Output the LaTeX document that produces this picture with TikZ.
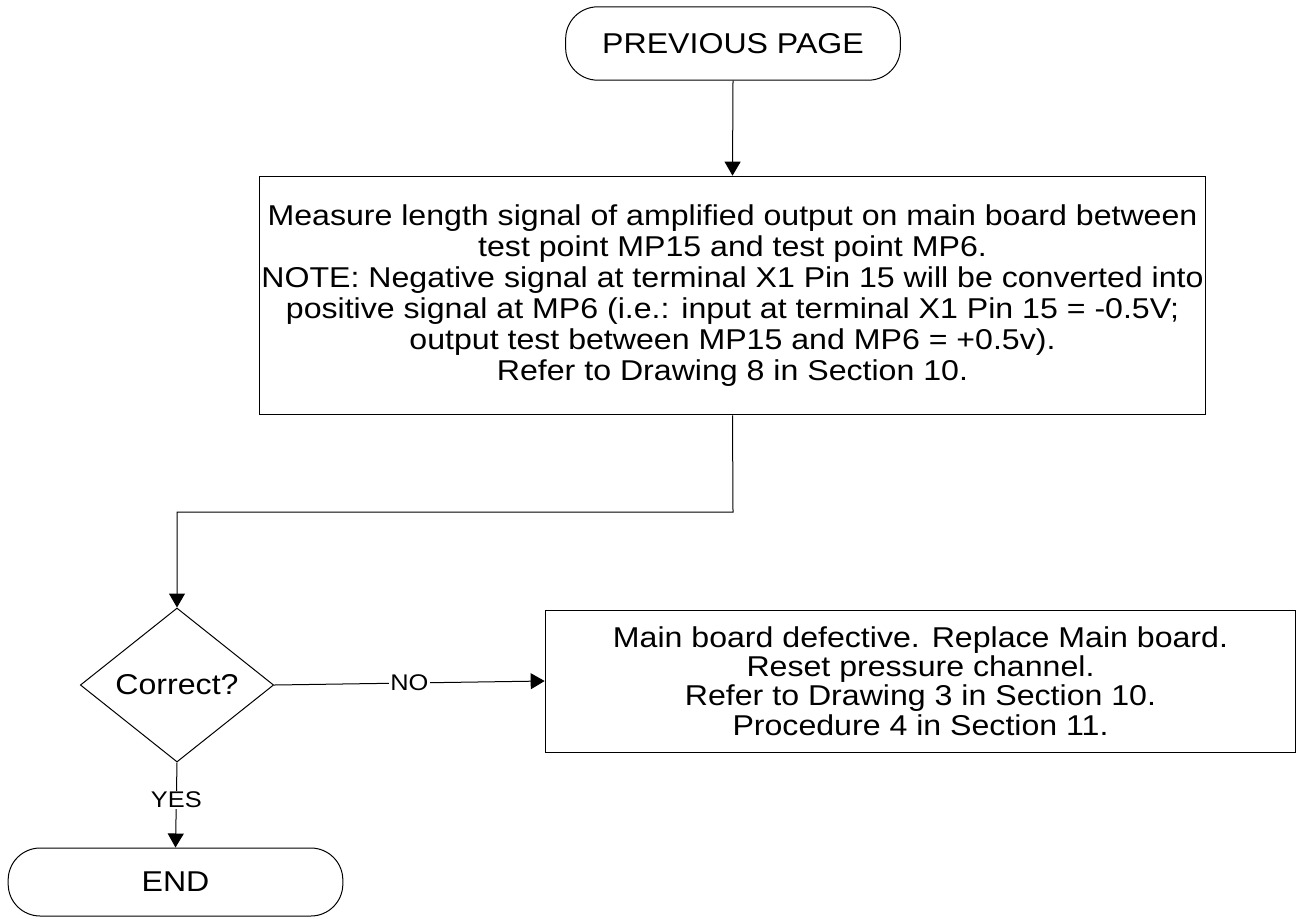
\documentclass[tikz,border=0pt]{standalone}
\usepackage{fontspec}
\setmainfont{Liberation Sans}[FakeStretch=1.12]
\usetikzlibrary{shapes.geometric,arrows.meta}
\begin{document}
\begin{tikzpicture}[x=0.75pt,y=-0.75pt,
  line width=0.75pt,
  every node/.style={font=\fontsize{21.5}{23.25}\selectfont},
  term/.style={draw,rectangle,rounded corners=24pt,minimum width=251pt,inner sep=0pt},
  box/.style={draw,rectangle,align=center,inner sep=0pt},
  dec/.style={draw,diamond,inner sep=0pt,minimum width=145pt,minimum height=115.5pt},
  lab/.style={fill=white,inner sep=1pt,font=\fontsize{17}{19}\selectfont},
  arr/.style={-{Triangle[length=10.5pt,width=12pt]}}]
\useasboundingbox (0,0) rectangle (1312,918);
\node[term,minimum height=55pt] (prev) at (733,43.5) {PREVIOUS PAGE};
\node[box,minimum width=709pt,minimum height=179pt] (meas) at (732.5,295.5)
 {Measure length signal of amplified output on main board between\\
  test point MP15 and test point MP6.\\
  NOTE: Negative signal at terminal X1 Pin 15 will be converted into\\
  positive signal at MP6 (i.e.: input at terminal X1 Pin 15 = -0.5V;\\
  output test between MP15 and MP6 = +0.5v).\\
  Refer to Drawing 8 in Section 10.};
\node[dec] (corr) at (177,685) {Correct?};
\node[box,minimum width=563pt,minimum height=106.5pt,font=\fontsize{21.5}{22}\selectfont] (repl) at (920.5,681)
 {Main board defective. Replace Main board.\\
  Reset pressure channel.\\
  Refer to Drawing 3 in Section 10.\\
  Procedure 4 in Section 11.};
\node[term,minimum height=51pt] (end) at (175.5,882) {END};
\coordinate (b1) at (733,512);
\coordinate (b2) at (177,512);
\draw[arr] (prev.south) -- (meas.north);
\draw[arr] (meas.south) -- (b1) -- (b2) -- (corr.north);
\draw[arr] (corr.east) -- node[lab,pos=0.5]{NO} (repl.west);
\draw[arr] (corr.south) -- node[lab,pos=0.44]{YES} (end.north);
\end{tikzpicture}
\end{document}
